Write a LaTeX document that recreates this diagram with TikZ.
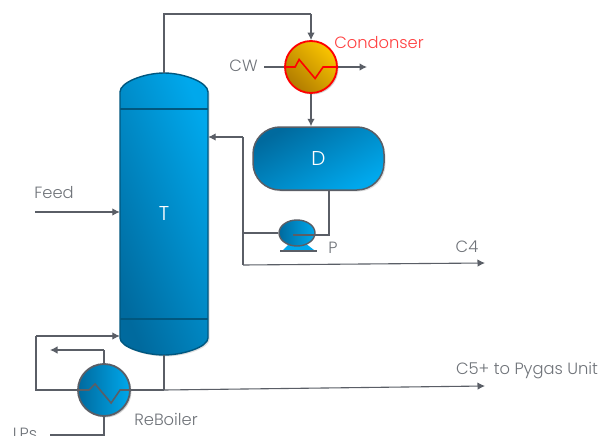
\documentclass[tikz,border=0pt]{standalone}
\usepackage{fontspec}
\setmainfont{Poppins Light}[BoldFont={Poppins}]
\usetikzlibrary{arrows.meta,shadows,shapes.geometric}
\definecolor{pipe}{HTML}{5A5E66}
\definecolor{label}{HTML}{6F7379}
\definecolor{rim}{HTML}{00577F}
\definecolor{bluedark}{HTML}{006A9E}
\definecolor{bluelight}{HTML}{00A8EC}
\definecolor{golddark}{HTML}{B07C00}
\definecolor{goldlight}{HTML}{FAC400}
\begin{document}
\begin{tikzpicture}[
	x=1pt,
	y=-1pt,
	line/.style={
		draw=pipe,
		line width=1.1pt
	},
	flow/.style={
		line,
		-{Latex[length=7.5pt,width=7.5pt]}
	},
	vessel/.style={
		draw=rim,
		line width=1.4pt,
		left color=bluedark,
		right color=bluelight,
		shading angle=112,
		drop shadow={opacity=0.25,shadow xshift=1.5pt,shadow yshift=-1.5pt}
	},
	exchanger/.style={
		circle,
		draw=pipe,
		line width=1.8pt,
		minimum size=52pt,
		inner sep=0pt,
		left color=bluedark,
		right color=bluelight,
		drop shadow={opacity=0.35,shadow xshift=1.5pt,shadow yshift=-1.5pt}
	},
	hotexchanger/.style={
		exchanger,
		draw=red,
		left color=goldlight,
		right color=golddark,
		shading angle=-45
	},
	drumbox/.style={
		rectangle,
		draw=pipe,
		line width=1.5pt,
		rounded corners=27pt,
		minimum width=131pt,
		minimum height=63pt,
		top color=bluedark,
		bottom color=bluelight,
		shading angle=30,
		text=white,
		font=\fontsize{20}{20}\selectfont,
		drop shadow={opacity=0.25,shadow xshift=1.5pt,shadow yshift=-1.5pt}
	},
	pumpbody/.style={
		ellipse,
		draw=pipe,
		line width=1.4pt,
		minimum width=36pt,
		minimum height=26pt,
		inner sep=0pt,
		left color=bluedark,
		right color=bluelight
	},
	tag/.style={
		text=label,
		inner sep=0pt,
		font=\fontsize{16.3}{17}\selectfont
	},
]

\clip (0,0) rectangle (600,436);

\fill[white] (0,0) rectangle (600,436);

\coordinate (feedin) at (35,212);
\coordinate (tee) at (243,137);
\coordinate (teelow) at (243,265);
\coordinate (c4end) at (485,263);
\coordinate (cwin) at (264,67);
\coordinate (cwout) at (367,67);
\coordinate (overhead) at (311,14);
\coordinate (drumout) at (329,190);
\coordinate (pumpout) at (293,235);
\coordinate (loopcorner) at (36,336);
\coordinate (steamtop) at (105,350);
\coordinate (steamend) at (50,350);
\coordinate (bottomjoin) at (164,390);
\coordinate (c5end) at (485,386);
\coordinate (lpsend) at (50,435);

\path[vessel] (120,338) -- (120,92) .. controls (120,82) and (145,73) .. (164,73)
	.. controls (183,73) and (208,82) .. (208,92) -- (208,338)
	.. controls (208,347) and (183,355) .. (164,355)
	.. controls (145,355) and (120,347) .. (120,338) -- cycle;
\node[minimum width=88pt, minimum height=282pt, inner sep=0pt, text=white, font=\fontsize{20}{20}\selectfont] (tower) at (164,214) {T};
\draw[rim, line width=1.8pt] (120,109) -- (208,109);
\draw[rim, line width=1.8pt] (120,319) -- (208,319);

\node[drumbox] (drum) at (318.5,158.5) {D};
\node[hotexchanger] (cond) at (311,67) {};
\node[exchanger] (reboil) at (104,390) {};

\fill[bluelight] (283,250) -- (290,243) -- (305,243) -- (314,250) -- cycle;
\draw[pipe, line width=1.8pt] (280,251) -- (317,251);
\node[pumpbody] (pump) at (297,233) {};

\draw[line] (tower.north) |- (overhead);
\draw[flow] (overhead) -- (cond.north);
\draw[line] (cwin) -- (cond.west);
\draw[flow] (cond.east) -- (cwout);
\draw[flow] (cond.south) -- (cond.south |- drum.north);
\draw[line] (drumout) |- (pumpout);
\draw[line] (pump.west) -- (pump.west -| tee);
\draw[flow] (tee) -- (tee -| tower.east);
\draw[line] (tee) -- (teelow);
\draw[flow] (teelow) -- (c4end);
\draw[flow] (feedin) -- (feedin -| tower.west);
\draw[line] (tower.south) -- (bottomjoin);
\draw[line] (reboil.east) -- (bottomjoin);
\draw[flow] (bottomjoin) -- (c5end);
\draw[line] (reboil.west) -| (loopcorner);
\draw[flow] (loopcorner) -- (loopcorner -| tower.west);
\draw[line] (reboil.north) -- (reboil.north |- steamtop);
\draw[flow] (reboil.north |- steamtop) -- (steamend);
\draw[line] (reboil.south) |- (lpsend);

\draw[red, line width=1.6pt] (cond.west) -- ++(11,0) -- ++(4,-7.5) -- ++(16,19) -- ++(8,-11.5) -- (cond.east);
\draw[pipe, line width=1.6pt] (reboil.west) -- ++(12,0) -- ++(6,-6) -- ++(16,19) -- ++(9,-13) -- (reboil.east);

\node[tag, text=red!75!white] (condname) at (379,43) {Condonser};
\node[tag] (cwname) at (243.5,65.5) {CW};
\node[tag] (feedname) at (54,192.5) {Feed};
\node[tag] (pumpname) at (333,248) {P};
\node[tag] (c4name) at (467,246.5) {C4};
\node[tag] (c5name) at (527,371) {C5+ to Pygas Unit};
\node[tag] (reboilname) at (166,419) {ReBoiler};
\node[tag] (lpsname) at (25,434) {LPs};

\end{tikzpicture}
\end{document}
